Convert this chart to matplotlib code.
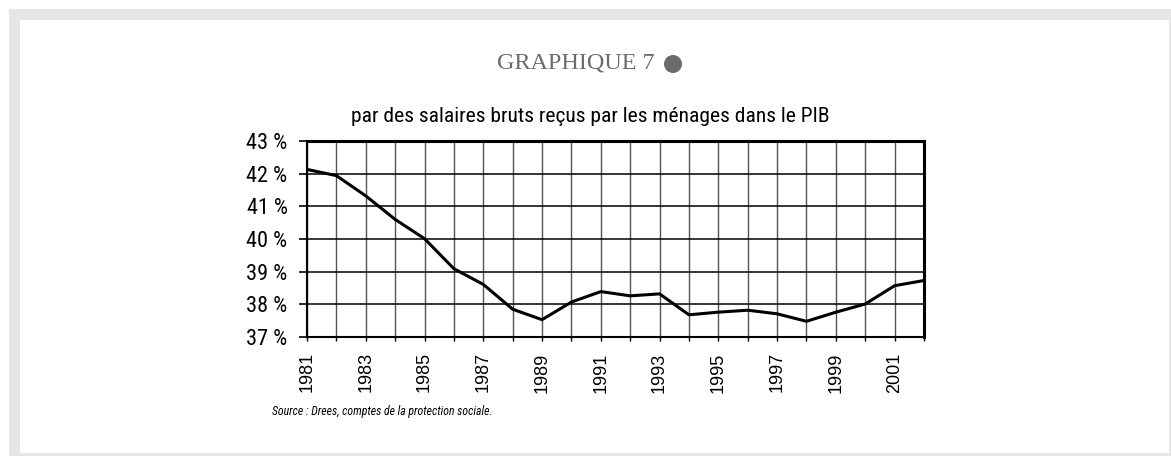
import matplotlib
matplotlib.use("Agg")
import matplotlib.pyplot as plt
from matplotlib.patches import Rectangle, Circle
from matplotlib import font_manager as fm

years = list(range(1981, 2003))
values = [42.13, 41.94, 41.32, 40.60, 40.01, 39.09, 38.61, 37.85, 37.53, 38.07,
          38.39, 38.26, 38.32, 37.68, 37.76, 37.82, 37.71, 37.48, 37.76, 38.01,
          38.57, 38.73]
ytick_vals = [37, 38, 39, 40, 41, 42, 43]
ytick_labels = ["37 %", "38 %", "39 %", "40 %", "41 %", "42 %", "43 %"]
xtick_vals = list(range(1981, 2003, 2))
title_text = "par des salaires bruts reçus par les ménages dans le PIB"
header_text = "GRAPHIQUE 7"
source_text = "Source : Drees, comptes de la protection sociale."

names = {f.name for f in fm.fontManager.ttflist}
narrow_name = "DejaVu Sans"
for cand in ["Roboto Condensed", "Liberation Sans Narrow", "Archivo Narrow",
             "Barlow Condensed", "Asap Condensed"]:
    if cand in names:
        narrow_name = cand
        break
narrow = [narrow_name, "DejaVu Sans"]

W, H = 1171, 457
fig = plt.figure(figsize=(W / 100, H / 100), dpi=100)
fig.patch.set_facecolor("white")
renderer = fig.canvas.get_renderer()


def px_rect(x0, y0, x1, y1, color):
    fig.patches.append(Rectangle((x0 / W, 1 - y1 / H), (x1 - x0) / W, (y1 - y0) / H,
                                 transform=fig.transFigure, facecolor=color,
                                 edgecolor="none", zorder=-10))


def fit(t, target_w):
    w = t.get_window_extent(renderer).width
    t.set_fontsize(t.get_fontsize() * target_w / w)


px_rect(9, 9, 1171, 456, "#e6e6e6")
px_rect(20, 20, 1169, 453, "white")

ax = fig.add_axes([307 / W, 1 - 337 / H, (924 - 307) / W, (337 - 141) / H])
ax.plot(years, values, color="black", lw=2.2, zorder=3)
ax.set_xlim(1981, 2002)
ax.set_ylim(37, 43)
ax.set_xticks(years)
ax.set_xticklabels([str(y) if y in xtick_vals else "" for y in years])
ax.set_yticks(ytick_vals)
ax.set_yticklabels(ytick_labels, fontfamily=narrow, fontsize=16)
for lab in ax.get_xticklabels():
    lab.set_rotation(90)
    lab.set_fontfamily(["Liberation Sans", "DejaVu Sans"])
    lab.set_fontsize(13)
ax.tick_params(axis="x", length=3, width=1, pad=8, direction="out")
ax.tick_params(axis="y", length=6, width=1.2, pad=8, direction="out")
ax.grid(axis="x", color="#555555", lw=1)
ax.grid(axis="y", color="black", lw=1.1)
ax.set_axisbelow(True)
for side, lw in [("top", 2.2), ("right", 2.2), ("left", 1.5), ("bottom", 1.5)]:
    ax.spines[side].set_linewidth(lw)
    ax.spines[side].set_color("black")

h = fig.text(576 / W, 1 - 63 / H, header_text, ha="center", va="center",
             fontfamily=["Liberation Serif", "DejaVu Serif"], fontsize=17, color="#6b6b6b")
fit(h, 158)
fig.patches.append(Circle((673, H - 64), 9, transform=None, facecolor="#6b6b6b",
                          edgecolor="none"))
t = fig.text(590 / W, 1 - 117 / H, title_text, ha="center", va="center",
             fontfamily=narrow, fontsize=14.5, color="black")
fit(t, 478)
s = fig.text(272 / W, 1 - 411 / H, source_text, ha="left", va="center",
             fontfamily=narrow, fontstyle="italic", fontsize=9.5, color="black")
fit(s, 222)

fig.savefig("out.png", dpi=100)
